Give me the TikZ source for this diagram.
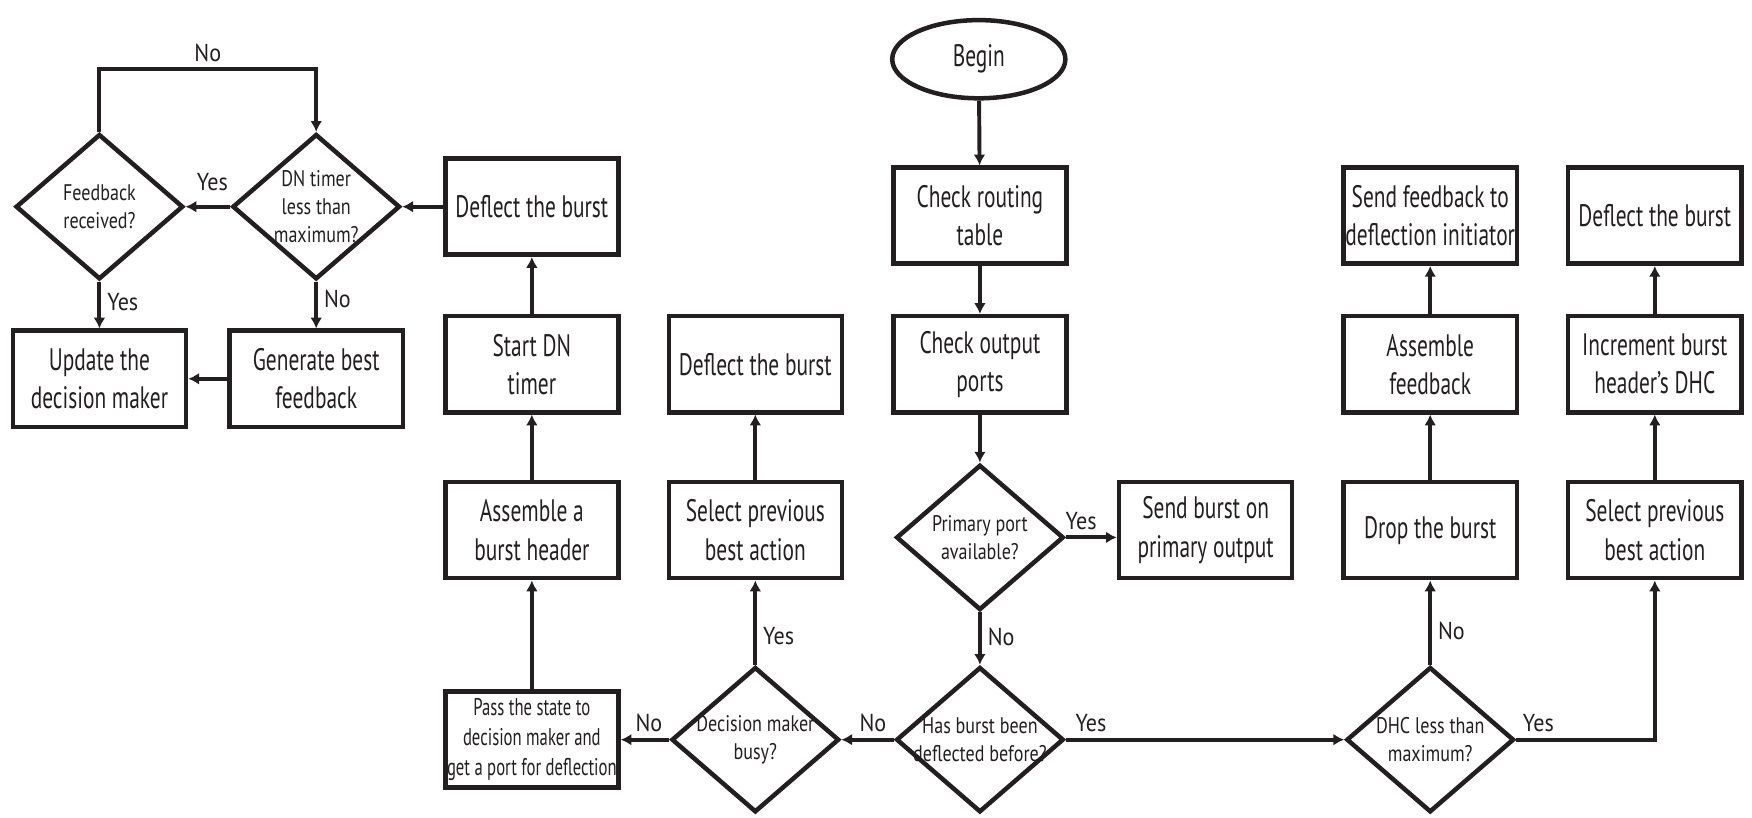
\documentclass[tikz,border=0pt]{standalone}
\usepackage{fontspec}
\setmainfont{PT Sans}[FakeStretch=0.69]
\newfontfamily\dfont{PT Sans}[FakeStretch=0.8]
\newfontfamily\lfont{PT Sans}[FakeStretch=0.9]
\usetikzlibrary{arrows.meta,shapes.geometric,positioning}
\definecolor{cink}{HTML}{231F20}

\begin{document}
\begin{tikzpicture}[
    x=0.02cm, y=-0.02cm,
    >={Latex[length=5.5pt,width=6pt]},
    proc/.style={draw=cink, line width=2.3pt, text=cink, minimum width=3.1cm,
      minimum height=1.72cm, inner sep=0pt, align=center,
      font=\fontsize{15.8}{19.4}\selectfont},
    smallproc/.style={proc, font=\fontsize{12.3}{15.4}\selectfont},
    decision/.style={diamond, draw=cink, line width=2.3pt, minimum width=3.0cm,
      minimum height=2.6cm, inner sep=0pt},
    dtext/.style={align=center, text=cink, font=\dfont\fontsize{11.5}{14.3}\selectfont},
    terminal/.style={ellipse, draw=cink, line width=2.3pt, text=cink,
      minimum width=3.1cm, minimum height=1.4cm, inner sep=0pt,
      font=\fontsize{15.8}{19.4}\selectfont},
    flow/.style={->, draw=cink, line width=2pt},
    lbl/.style={font=\lfont\fontsize{12.5}{15}\selectfont, text=cink, inner sep=3pt},
  ]
  \useasboundingbox (0,0) rectangle (1568,732);

  % main column
  \node[terminal] (begin) at (876,53) {Begin};
  \node[proc] (chkroute) at (877,193) {Check routing\\table};
  \node[proc] (chkports) at (877,326) {Check output\\ports};
  \node[decision, label={[dtext]center:Primary port\\available?}] (primary) at (877,481) {};
  \node[proc] (sendprim) at (1079,474.5) {Send burst on\\primary output};
  \node[decision, label={[dtext]center:Has burst been\\deflected before?}] (hasdefl) at (877,662) {};

  % deflection branch
  \node[decision, label={[dtext]center:Decision maker\\busy?}] (dmbusy) at (676,662) {};
  \node[proc] (prevbest) at (676,474.5) {Select previous\\best action};
  \node[proc] (deflmid) at (676,326) {Deflect the burst};
  \node[smallproc] (passstate) at (476,662) {Pass the state to\\decision maker and\\get a port for deflection};
  \node[proc] (asmhdr) at (476,474.5) {Assemble a\\burst header};
  \node[proc] (startdn) at (476,326) {Start DN\\timer};
  \node[proc] (defleft) at (476,185) {Deflect the burst};

  % DN timer loop
  \node[decision, label={[dtext]center:DN timer\\less than\\maximum?}] (dntimer) at (283,185) {};
  \node[decision, label={[dtext]center:Feedback\\received?}] (fbrecv) at (89,185) {};
  \node[proc] (genfb) at (283,339) {Generate best\\feedback};
  \node[proc] (update) at (89,339) {Update the\\decision maker};
  \coordinate (nobend) at (186,62);

  % burst already deflected
  \node[decision, label={[dtext]center:DHC less than\\maximum?}] (dhc) at (1280,662) {};
  \node[proc] (drop) at (1280,474.5) {Drop the burst};
  \node[proc] (asmfb) at (1280,326) {Assemble\\feedback};
  \node[proc] (sendfb) at (1280,193) {Send feedback to\\deflection initiator};
  \node[proc] (prevright) at (1481,474.5) {Select previous\\best action};
  \node[proc] (incdhc) at (1481,326) {Increment burst\\header's DHC};
  \node[proc] (deflright) at (1481,193) {Deflect the burst};

  % connectors
  \draw[flow] (begin) -- (chkroute);
  \draw[flow] (chkroute) -- (chkports);
  \draw[flow] (chkports) -- (primary);
  \draw[flow] (primary.east) -- node[lbl, above, pos=0.3] {Yes} (primary.east -| sendprim.west);
  \draw[flow] (primary) -- node[lbl, right, pos=0.47] {No} (hasdefl);
  \draw[flow] (hasdefl) -- node[lbl, above, pos=0.4] {No} (dmbusy);
  \draw[flow] (hasdefl) -- node[lbl, above, pos=0.09] {Yes} (dhc);
  \draw[flow] (dmbusy) -- node[lbl, above, pos=0.42] {No} (passstate);
  \draw[flow] (dmbusy) -- node[lbl, right, pos=0.34] {Yes} (prevbest);
  \draw[flow] (prevbest) -- (deflmid);
  \draw[flow] (passstate) -- (asmhdr);
  \draw[flow] (asmhdr) -- (startdn);
  \draw[flow] (startdn) -- (defleft);
  \draw[flow] (defleft) -- (dntimer);
  \draw[flow] (dntimer) -- node[lbl, above, pos=0.4, yshift=4pt] {Yes} (fbrecv);
  \draw[flow] (fbrecv) -- node[lbl, right, pos=0.44] {Yes} (update);
  \draw[flow] (dntimer) -- node[lbl, right, pos=0.37] {No} (genfb);
  \draw[flow] (genfb) -- (update);
  \draw[flow] (fbrecv.north) |- (nobend) node[lbl, above] {No} -| (dntimer.north);
  \draw[flow] (dhc) -- node[lbl, right, pos=0.4] {No} (drop);
  \draw[flow] (drop) -- (asmfb);
  \draw[flow] (asmfb) -- (sendfb);
  \draw[flow] (dhc.east) -| node[lbl, above, pos=0.08] {Yes} (prevright.south);
  \draw[flow] (prevright) -- (incdhc);
  \draw[flow] (incdhc) -- (deflright);
\end{tikzpicture}
\end{document}
